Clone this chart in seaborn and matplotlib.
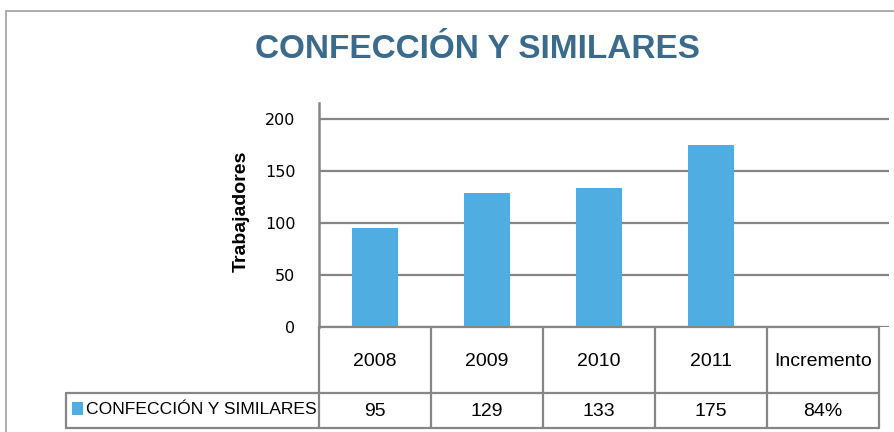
import matplotlib
matplotlib.use("Agg")
import matplotlib.pyplot as plt
import seaborn as sns
import pandas as pd
from matplotlib.lines import Line2D
from matplotlib.patches import Rectangle

# ---- data ----
categories = ["2008", "2009", "2010", "2011", "Incremento"]
years = ["2008", "2009", "2010", "2011"]
values = [95, 129, 133, 175]
table_values = ["95", "129", "133", "175", "84%"]
series_name = "CONFECCIÓN Y SIMILARES"
title = "CONFECCIÓN Y SIMILARES"
ylabel = "Trabajadores"
yticks = [0, 50, 100, 150, 200]

BAR = "#4FADE2"
GRID = "#868686"
TITLE_C = "#3A6B8C"

sns.set_theme(style="white")
plt.rcParams["font.family"] = ["Liberation Sans", "DejaVu Sans"]

W, H = 894, 432
fig = plt.figure(figsize=(W / 100, H / 100), dpi=100)

def fx(x):
    return x / W

def fy(y):
    return 1 - y / H

# axes: x from 319 to 889, y from 103 (top) to 327 (zero)
ax = fig.add_axes([fx(319), fy(327), fx(889) - fx(319), fy(103) - fy(327)])
df = pd.DataFrame({"cat": years, "val": values})
sns.barplot(data=df, x="cat", y="val", order=categories, color=BAR,
            width=0.41, saturation=1, ax=ax, zorder=3,
            edgecolor="none", linewidth=0)
ax.set_xlim(-0.5, 4.5 + 10 / 112)
ax.set_ylim(0, 215)
ax.set_yticks(yticks)
ax.set_yticklabels([str(t) for t in yticks], fontsize=11.5,
                   family="DejaVu Sans", color="#000000")
ax.tick_params(axis="y", length=0, pad=17)
ax.set_xticks([])
ax.set_xlabel("")
ax.set_ylabel("")
ax.yaxis.grid(True, color=GRID, linewidth=1.6, zorder=0)
ax.set_axisbelow(True)
for s in ["top", "right", "bottom"]:
    ax.spines[s].set_visible(False)
ax.spines["left"].set_color(GRID)
ax.spines["left"].set_linewidth(1.8)
ax.patch.set_alpha(0)

# y label
fig.text(fx(241), fy(211), ylabel, rotation=90, ha="center", va="center",
         fontsize=14, fontweight="bold", color="#000000")

# title
fig.text(fx(477), fy(50), title, ha="center", va="center",
         fontsize=24, fontweight="bold", color=TITLE_C)

# outer frame
fig.add_artist(Rectangle((fx(6), fy(500)), fx(1000) - fx(6), fy(11) - fy(500),
                         transform=fig.transFigure, fill=False,
                         edgecolor="#A0A0A0", linewidth=1.2))

# data table lines
LW = 1.6
def hline(x0, x1, y):
    fig.add_artist(Line2D([fx(x0), fx(x1)], [fy(y), fy(y)],
                          transform=fig.transFigure, color=GRID, linewidth=LW))

def vline(x, y0, y1):
    fig.add_artist(Line2D([fx(x), fx(x)], [fy(y0), fy(y1)],
                          transform=fig.transFigure, color=GRID, linewidth=LW))

col_edges = [319 + 112 * i for i in range(len(categories) + 1)]
hline(319, col_edges[-1], 327)
hline(66, col_edges[-1], 393)
hline(66, col_edges[-1], 428)
for xe in col_edges:
    vline(xe, 327, 428)
vline(66, 393, 428)

for i, (c, v) in enumerate(zip(categories, table_values)):
    xc = (col_edges[i] + col_edges[i + 1]) / 2
    if c == "Incremento":
        fig.text(fx(xc), fy(361), c, ha="center", va="center", fontsize=14,
                 color="#000000")
    else:
        fig.text(fx(xc), fy(361), c, ha="center", va="center", fontsize=14,
                 color="#000000")
    fig.text(fx(xc), fy(411), v, ha="center", va="center", fontsize=14,
             color="#000000")

# legend key in table
fig.add_artist(Rectangle((fx(72), fy(415)), fx(83) - fx(72), fy(402) - fy(415),
                         transform=fig.transFigure, facecolor=BAR, edgecolor="none"))
fig.text(fx(86), fy(410), series_name, ha="left", va="center", fontsize=12.6,
         color="#000000")

fig.savefig("out.png", dpi=100)
